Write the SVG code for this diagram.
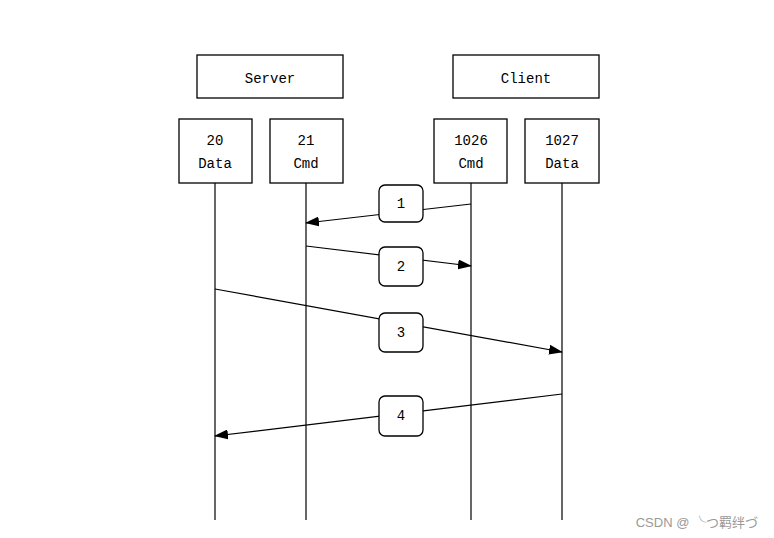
<svg xmlns="http://www.w3.org/2000/svg" width="774" height="538" viewBox="0 0 774 538">
<style>
.b{fill:#fff;stroke:#000;stroke-width:1.3}
.t{font-family:"Liberation Mono",monospace;font-size:14px;text-anchor:middle;fill:#000}
.l{stroke:#000;stroke-width:1.2;fill:none}
</style>
<defs><marker id="a" markerWidth="14" markerHeight="10" refX="13" refY="5" orient="auto" markerUnits="userSpaceOnUse"><path d="M0,0L14,5L0,10z" fill="#000"/></marker></defs>
<rect width="774" height="538" fill="#fff"/>
<g id="server"><rect class="b" x="197" y="55" width="146" height="43"/><text class="t" x="270" y="83">Server</text></g>
<g id="client"><rect class="b" x="453" y="55" width="146" height="43"/><text class="t" x="526" y="83">Client</text></g>
<g id="p20"><rect class="b" x="179" y="119" width="73" height="64"/><text class="t" x="215" y="145">20</text><text class="t" x="215" y="168">Data</text></g>
<g id="p21"><rect class="b" x="270" y="119" width="73" height="64"/><text class="t" x="306" y="145">21</text><text class="t" x="306" y="168">Cmd</text></g>
<g id="p1026"><rect class="b" x="434" y="119" width="73" height="64"/><text class="t" x="471" y="145">1026</text><text class="t" x="471" y="168">Cmd</text></g>
<g id="p1027"><rect class="b" x="525" y="119" width="74" height="64"/><text class="t" x="562" y="145">1027</text><text class="t" x="562" y="168">Data</text></g>
<g id="connectors">
<line class="l" x1="215" y1="183" x2="215" y2="520"/>
<line class="l" x1="306" y1="183" x2="306" y2="520"/>
<line class="l" x1="471" y1="183" x2="471" y2="520"/>
<line class="l" x1="562" y1="183" x2="562" y2="520"/>
<line class="l" x1="471" y1="204" x2="306" y2="223" marker-end="url(#a)"/>
<line class="l" x1="306" y1="246" x2="471" y2="266" marker-end="url(#a)"/>
<line class="l" x1="215" y1="289" x2="562" y2="352" marker-end="url(#a)"/>
<line class="l" x1="562" y1="394" x2="215" y2="436" marker-end="url(#a)"/>
</g>
<g id="n1"><rect class="b" x="379" y="185" width="44" height="37" rx="6"/><text class="t" x="401" y="208">1</text></g>
<g id="n2"><rect class="b" x="379" y="247" width="44" height="39" rx="6"/><text class="t" x="401" y="271">2</text></g>
<g id="n3"><rect class="b" x="379" y="313" width="44" height="39" rx="6"/><text class="t" x="401" y="337">3</text></g>
<g id="n4"><rect class="b" x="379" y="396" width="44" height="40" rx="6"/><text class="t" x="401" y="420">4</text></g>
<text x="758" y="527" font-family="'Liberation Sans','Noto Sans CJK SC',sans-serif" font-size="13" fill="#999" text-anchor="end">CSDN @ ╰つ羁绊づ</text>
</svg>
